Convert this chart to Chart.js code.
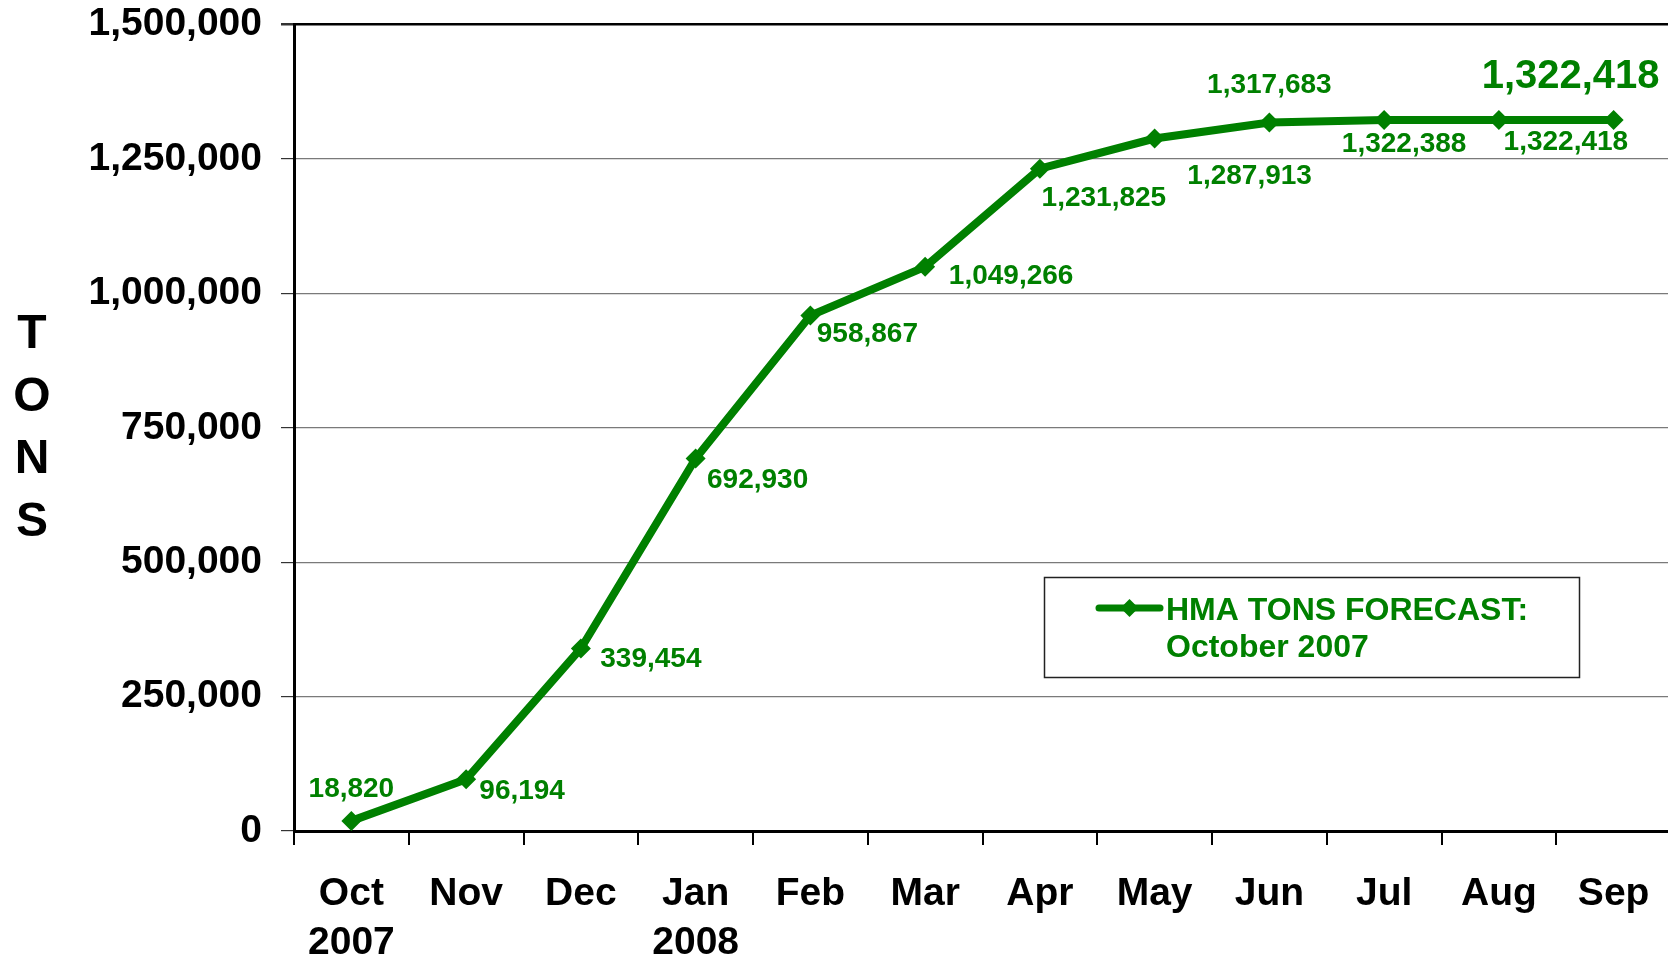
<!DOCTYPE html>
<html>
<head>
<meta charset="utf-8">
<title>HMA Tons Forecast</title>
<script src="https://cdn.jsdelivr.net/npm/chart.js@4"></script>
<style>
  html, body { margin: 0; padding: 0; background: #fff; overflow: hidden; }
  #wrap { width: 1668px; height: 957px; overflow: hidden; }
</style>
</head>
<body>
<div id="wrap"><canvas id="chart" width="1681" height="957"></canvas></div>
<script>
// data
const months = [['Oct', '2007'], 'Nov', 'Dec', ['Jan', '2008'], 'Feb', 'Mar', 'Apr', 'May', 'Jun', 'Jul', 'Aug', 'Sep'];
const tons = [18820, 96194, 339454, 692930, 958867, 1049266, 1231825, 1287913, 1317683, 1322388, 1322418, 1322418];
const seriesName = 'HMA TONS FORECAST: October 2007';
const axisTitle = ['T', 'O', 'N', 'S'];
const yMax = 1500000;
const yStep = 250000;

// where each value label sits relative to its point (px)
const labelOffsets = [
  [0, -32], [56, 12], [70, 11], [62, 22], [57, 19], [86, 9],
  [64, 30], [95, 38], [0, -37], [20, 24], [67, 22], [-43, -43]
];

const GREEN = '#008000';
const FONT = '"Liberation Sans", Arial, sans-serif';

const extras = {
  id: 'extras',
  afterDatasetsDraw(chart) {
    const ctx = chart.ctx;
    const meta = chart.getDatasetMeta(0);
    ctx.save();
    ctx.fillStyle = GREEN;
    ctx.textAlign = 'center';
    ctx.textBaseline = 'middle';
    meta.data.forEach((pt, i) => {
      const last = i === tons.length - 1;
      ctx.font = 'bold ' + (last ? 40 : 28) + 'px ' + FONT;
      const [dx, dy] = labelOffsets[i];
      ctx.fillText(tons[i].toLocaleString('en-US'), pt.x + dx, pt.y + dy);
    });

    // legend box
    ctx.strokeStyle = '#222';
    ctx.lineWidth = 1.5;
    ctx.strokeRect(1044.5, 577.5, 535, 100);
    ctx.strokeStyle = GREEN;
    ctx.lineWidth = 7;
    ctx.lineCap = 'round';
    ctx.beginPath();
    ctx.moveTo(1099, 608);
    ctx.lineTo(1160, 608);
    ctx.stroke();
    ctx.beginPath();
    ctx.moveTo(1129.5, 599); ctx.lineTo(1138.5, 608); ctx.lineTo(1129.5, 617); ctx.lineTo(1120.5, 608);
    ctx.closePath();
    ctx.fill();
    ctx.font = 'bold 32px ' + FONT;
    ctx.textAlign = 'left';
    const parts = seriesName.split(': ');
    ctx.fillText(parts[0] + ':', 1166, 611);
    ctx.fillText(parts[1], 1166, 648);

    // stacked axis title
    ctx.fillStyle = '#000';
    ctx.textAlign = 'center';
    ctx.font = 'bold 48px ' + FONT;
    axisTitle.forEach((ch, i) => ctx.fillText(ch, 32, 335 + i * 62.5));
    ctx.restore();
  }
};

new Chart(document.getElementById('chart'), {
  type: 'line',
  data: {
    labels: months,
    datasets: [{
      label: seriesName,
      data: tons,
      borderColor: GREEN,
      backgroundColor: GREEN,
      borderWidth: 8,
      pointStyle: 'rectRot',
      pointRadius: 10,
      pointBorderWidth: 0,
      pointBackgroundColor: GREEN,
      tension: 0
    }]
  },
  options: {
    responsive: false,
    animation: false,
    devicePixelRatio: 1,
    layout: { padding: { left: 0, right: 4, top: 24.5, bottom: 0 } },
    plugins: { legend: { display: false }, tooltip: { enabled: false } },
    scales: {
      x: {
        offset: true,
        afterFit: s => { s.height = 126; },
        border: { color: '#000', width: 3 },
        grid: { offset: true, drawOnChartArea: false, tickLength: 14, color: '#000', lineWidth: 2 },
        ticks: {
          autoSkip: false, maxRotation: 0, padding: 25, color: '#000',
          font: { family: FONT, size: 39, weight: 'bold', lineHeight: 1.25 }
        }
      },
      y: {
        min: 0, max: yMax,
        afterFit: s => { s.width = 294; s.paddingTop = 0; s.paddingBottom = 0; },
        border: { color: '#000', width: 3 },
        grid: {
          tickLength: 13,
          color: c => c.tick && c.tick.value === yMax ? '#000' : '#7a7a7a',
          lineWidth: c => c.tick && c.tick.value === yMax ? 2.5 : 1.2,
          tickColor: '#333'
        },
        ticks: {
          stepSize: yStep, padding: 19, color: '#000',
          font: { family: FONT, size: 39, weight: 'bold' },
          callback: v => v.toLocaleString('en-US')
        }
      }
    }
  },
  plugins: [extras]
});
</script>
</body>
</html>
